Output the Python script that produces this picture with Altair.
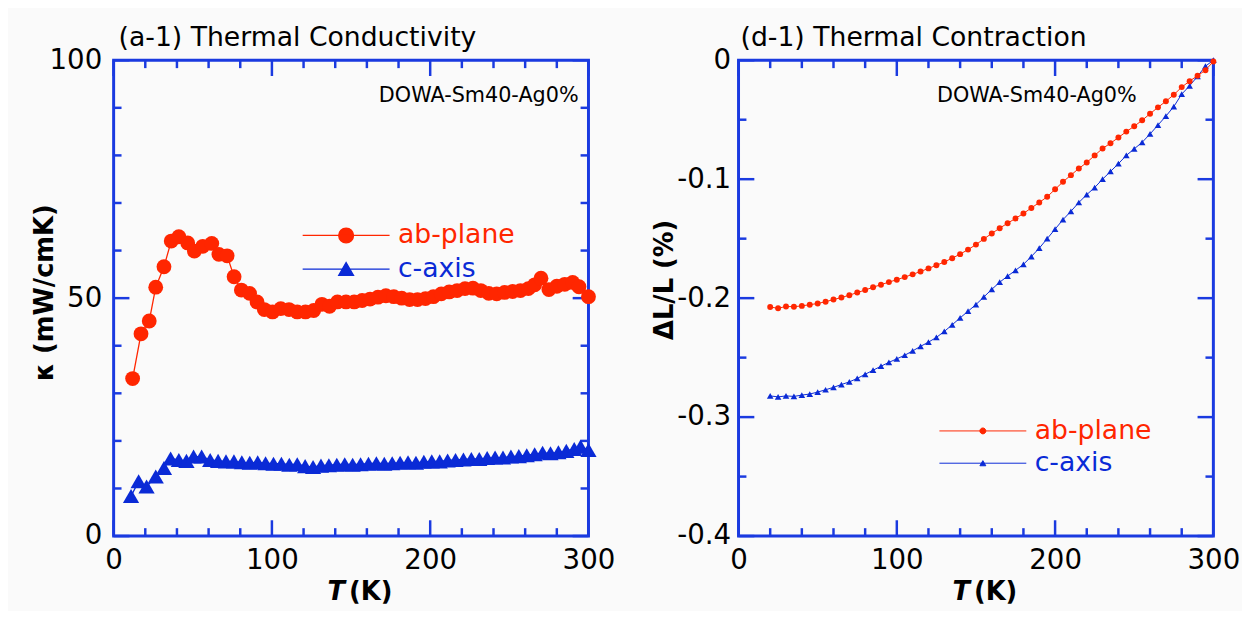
import altair as alt
import pandas as pd

# ---------------- data: panel (a-1) thermal conductivity ----------------
kab_T = [12.0, 17.3, 22.5, 26.6, 31.8, 36.4, 41.2, 46.8, 51.0, 56.3, 62.0, 66.5, 71.7, 76.1, 80.7,
         85.9, 90.6, 95.2, 100.4, 105.6, 110.8, 116.0, 121.2, 126.4, 131.6, 136.4, 141.4, 146.8,
         152, 157, 162, 167, 172, 177, 182, 187, 192, 197, 202, 207, 212, 217, 222, 227, 232,
         237, 242, 247, 252, 257, 262, 266, 270, 275, 280, 285, 290, 294, 300]
kab_v = [33.1, 42.5, 45.2, 52.3, 56.6, 62.0, 62.9, 61.6, 59.9, 60.9, 61.5, 59.2, 58.9, 54.5, 51.7,
         51.0, 49.2, 47.6, 47.1, 47.8, 47.6, 47.1, 47.1, 47.4, 48.7, 48.3, 49.2, 49.2,
         49.2, 49.5, 49.8, 50.2, 50.5, 50.3, 50.0, 49.7, 49.7, 49.9, 50.3, 50.9, 51.3, 51.6, 52.0, 52.1, 51.6,
         51.0, 50.9, 51.2, 51.4, 51.6, 52.0, 52.8, 54.2, 51.8, 52.5, 52.9, 53.3, 52.4, 50.3]
kc_T = [11.0, 15.8, 20.8, 26.6, 31.8, 36.0, 41.2, 46.0, 50.5, 55.6, 61, 66, 71, 76, 81, 86, 91, 96,
        101, 106, 111, 116, 121, 126, 131, 136, 141, 146, 151, 156, 161, 166, 171, 176, 181, 186,
        191, 196, 201, 206, 211, 216, 221, 226, 231, 236, 241, 246, 251, 256, 261, 266, 271, 276,
        281, 286, 291, 295, 300]
kc_v = [8.4, 11.5, 10.4, 12.5, 14.3, 16.3, 16.0, 15.8, 16.7, 16.7, 16.0, 15.8, 15.7, 15.7, 15.5,
        15.4, 15.5, 15.3, 15.2, 15.2, 15.0, 15.1, 14.7, 14.5, 14.8, 14.9, 15.0, 15.1, 15.0, 15.1,
        15.2, 15.3, 15.2, 15.3, 15.4, 15.5, 15.4, 15.6, 15.7, 15.7, 15.9, 16.0, 16.1, 16.2, 16.2,
        16.4, 16.5, 16.5, 16.7, 16.8, 17.0, 17.2, 17.5, 17.4, 17.6, 17.9, 18.3, 18.8, 18.1]

# ---------------- data: panel (d-1) thermal contraction ----------------
dl_T = [20, 25, 30, 35, 40, 45, 50, 55, 60, 65, 70, 75, 80, 85, 90, 95, 100, 105, 110, 115,
        120, 125, 130, 135, 140, 145, 150, 155, 160, 165, 170, 175, 180, 185, 190, 195, 200,
        205, 210, 215, 220, 225, 230, 235, 240, 245, 250, 255, 260, 265, 270, 275, 280, 285,
        290, 295, 300]
dl_ab = [-0.2075, -0.2085, -0.2070, -0.2072, -0.2065, -0.2055, -0.2045, -0.2030, -0.2012, -0.1995,
         -0.1975, -0.1953, -0.1932, -0.1908, -0.1887, -0.1865, -0.1845, -0.1823, -0.1800, -0.1776,
         -0.1750, -0.1724, -0.1696, -0.1664, -0.1630, -0.1592, -0.1550, -0.1502, -0.1456, -0.1412,
         -0.1370, -0.1330, -0.1288, -0.1242, -0.1196, -0.1148, -0.1085, -0.1022, -0.0966, -0.0910,
         -0.0860, -0.0800, -0.0742, -0.0698, -0.0650, -0.0600, -0.0555, -0.0505, -0.0450, -0.0396,
         -0.0345, -0.0290, -0.0226, -0.0176, -0.0130, -0.0084, -0.0010]
dl_c = [-0.2822, -0.2830, -0.2822, -0.2826, -0.2815, -0.2806, -0.2790, -0.2770, -0.2750, -0.2726,
        -0.2704, -0.2675, -0.2640, -0.2606, -0.2572, -0.2540, -0.2510, -0.2480, -0.2444, -0.2405,
        -0.2370, -0.2330, -0.2280, -0.2224, -0.2166, -0.2110, -0.2054, -0.1990, -0.1926, -0.1866,
        -0.1815, -0.1766, -0.1716, -0.1650, -0.1580, -0.1500, -0.1420, -0.1340, -0.1270, -0.1196,
        -0.1130, -0.1070, -0.1000, -0.0935, -0.0870, -0.0800, -0.0745, -0.0690, -0.0620, -0.0545,
        -0.0470, -0.0390, -0.0285, -0.0215, -0.0135, -0.0050, 0.0000]

series_names = ["ab-plane", "c-axis"]

# ---------------- tick values ----------------
x_major = [0, 100, 200, 300]
x_minor = [20, 40, 60, 80, 120, 140, 160, 180, 220, 240, 260, 280]
ka_major = [0, 50, 100]
ka_minor = [10, 20, 30, 40, 60, 70, 80, 90]
dl_major = [-0.4, -0.3, -0.2, -0.1, 0.0]
dl_minor = [-0.35, -0.25, -0.15, -0.05]

RED = "#ff2600"
BLUE = "#0a2ad6"
FRAME = "#1a3ae0"
FONT = "DejaVu Sans"
H = 482


def legend_path(shape, half_line):
    if shape == "circle":
        body = "M1,0A1,1,0,1,1,-1,0A1,1,0,1,1,1,0Z"
    else:
        body = "M0,-0.866L1,0.866L-1,0.866Z"
    return f"M{-half_line:.2f},0L{half_line:.2f},0" + body


def panel(W, title, title_dx, ydom, ytitle, ytitle_x, ytitle_y, ylabel_expr, ylabel_pad,
          ymaj, ymin, data_ab, data_c, mark_sizes, line_w, leg, note, note_x, note_align):
    xs = alt.Scale(domain=[0, 300], nice=False, zero=False)
    ys = alt.Scale(domain=ydom, nice=False, zero=False)
    xax = alt.Axis(values=x_major, title=None, labelPadding=11, labelFlush=False)
    yargs = dict(values=ymaj, title=ytitle, labelPadding=ylabel_pad, titleAngle=270,
                 titleX=ytitle_x, titleY=ytitle_y, titleBaseline="bottom", titleAlign="center")
    if ylabel_expr:
        yargs["labelExpr"] = ylabel_expr
    yax = alt.Axis(**yargs)
    X = alt.X("T:Q", scale=xs, axis=xax)
    Y = alt.Y("v:Q", scale=ys, axis=yax)

    layers = []
    # inward ticks on all four sides
    for vals, ln in [(x_major, 16), (x_minor, 8)]:
        d = pd.DataFrame({"T": vals})
        layers.append(alt.Chart(d).mark_rule(color=FRAME, strokeWidth=2.5).encode(
            x=X, y=alt.value(0), y2=alt.value(ln)))
        layers.append(alt.Chart(d).mark_rule(color=FRAME, strokeWidth=2.5).encode(
            x=X, y=alt.value(H), y2=alt.value(H - ln)))
    for vals, ln in [(ymaj, 16), (ymin, 8)]:
        d = pd.DataFrame({"v": vals})
        layers.append(alt.Chart(d).mark_rule(color=FRAME, strokeWidth=2.5).encode(
            y=Y, x=alt.value(0), x2=alt.value(ln)))
        layers.append(alt.Chart(d).mark_rule(color=FRAME, strokeWidth=2.5).encode(
            y=Y, x=alt.value(W), x2=alt.value(W - ln)))

    dc = pd.DataFrame({"T": data_c[0], "v": data_c[1]})
    dab = pd.DataFrame({"T": data_ab[0], "v": data_ab[1]})
    layers.append(alt.Chart(dc).mark_line(color=BLUE, strokeWidth=line_w).encode(x=X, y=Y))
    layers.append(alt.Chart(dc).mark_point(shape="triangle-up", filled=True, opacity=1,
                                           color=BLUE, size=mark_sizes[1]).encode(x=X, y=Y))
    layers.append(alt.Chart(dab).mark_line(color=RED, strokeWidth=line_w).encode(x=X, y=Y))
    layers.append(alt.Chart(dab).mark_point(shape="circle", filled=True, opacity=1,
                                            color=RED, size=mark_sizes[0]).encode(x=X, y=Y))

    # legend (library legend, custom symbol = line + marker)
    r = (leg["size"] ** 0.5) / 2
    half = leg["half_line"] / r
    legend = alt.Legend(title=None, orient="none", legendX=leg["x"], legendY=leg["y"],
                        symbolSize=leg["size"], symbolStrokeWidth=leg["sw"],
                        labelFont=FONT, labelFontSize=27, labelOffset=leg["label_offset"],
                        labelColor={"expr": f"datum.label === 'ab-plane' ? '{RED}' : '{BLUE}'"},
                        rowPadding=leg["row_pad"], padding=0)
    dleg = pd.DataFrame({"series": pd.Series([], dtype="object")})
    layers.append(alt.Chart(dleg).mark_point(filled=True, opacity=1).encode(
        fill=alt.Fill("series:N", scale=alt.Scale(domain=series_names, range=[RED, BLUE]), legend=legend),
        stroke=alt.Stroke("series:N", scale=alt.Scale(domain=series_names, range=[RED, BLUE]), legend=legend),
        shape=alt.Shape("series:N", scale=alt.Scale(domain=series_names,
                                                    range=[legend_path("circle", half),
                                                           legend_path("tri", half)]), legend=legend),
    ))

    # annotation and x-axis title
    layers.append(alt.Chart(pd.DataFrame({"t": [note]})).mark_text(
        align=note_align, baseline="alphabetic", font=FONT, fontSize=21, color="black").encode(
        x=alt.value(note_x), y=alt.value(42), text="t:N"))
    layers.append(alt.Chart(pd.DataFrame({"t": ["T"]})).mark_text(
        align="right", baseline="alphabetic", font=FONT, fontSize=26, fontWeight="bold",
        fontStyle="italic", color="black").encode(x=alt.value(W / 2 - 6), y=alt.value(H + 65), text="t:N"))
    layers.append(alt.Chart(pd.DataFrame({"t": ["(K)"]})).mark_text(
        align="left", baseline="alphabetic", font=FONT, fontSize=26, fontWeight="bold",
        color="black").encode(x=alt.value(W / 2 - 2), y=alt.value(H + 65), text="t:N"))

    return alt.layer(*layers).properties(
        width=W, height=H,
        title=alt.TitleParams(title, anchor="start", frame="group", dx=title_dx, offset=-6,
                              font=FONT, fontSize=27, fontWeight="normal", color="black"))


left = panel(481, "(a-1) Thermal Conductivity", 5, [0, 100], "κ (mW/cmK)", -57, 235, None, 12,
             ka_major, ka_minor, (kab_T, kab_v), (kc_T, kc_v), (225, 270), 1.3,
             dict(x=222, y=164, size=225, half_line=44, sw=1.3, label_offset=39, row_pad=6),
             "DOWA-Sm40-Ag0%", 471, "right")
right = panel(481, "(d-1) Thermal Contraction", 2, [-0.4, 0], "ΔL/L (%)", -62, 222,
              "datum.value == 0 ? '0' : '-' + format(abs(datum.value), '.1f')", 8,
              dl_major, dl_minor, (dl_T, dl_ab), (dl_T, dl_c), (36, 45), 1.0,
              dict(x=234, y=362, size=36, half_line=44, sw=1.0, label_offset=39, row_pad=4.7),
              "DOWA-Sm40-Ag0%", 201, "left")

chart = alt.hconcat(left, right, spacing=33).resolve_scale(
    fill="independent", stroke="independent", shape="independent"
).properties(
    background="#fafafa",
    padding={"left": 22, "top": 11, "right": 0, "bottom": 0},
).configure_view(stroke=FRAME, strokeWidth=3).configure_axis(
    grid=False, domain=False, ticks=False,
    labelFont=FONT, labelFontSize=28, labelColor="black",
    titleFont=FONT, titleFontSize=26, titleFontWeight="bold", titleColor="black",
)

chart.save("out.html", embed_options={"renderer": "svg", "actions": False})
